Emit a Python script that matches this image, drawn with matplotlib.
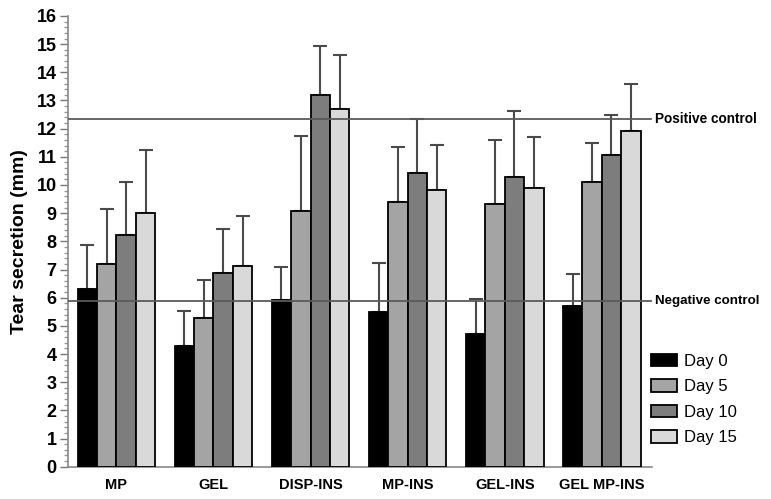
import matplotlib
matplotlib.use('Agg')
import matplotlib.pyplot as plt
import numpy as np
from matplotlib.ticker import MultipleLocator

# groups and series
groups = ['MP', 'GEL', 'DISP-INS', 'MP-INS', 'GEL-INS', 'GEL MP-INS']
days = ['Day 0', 'Day 5', 'Day 10', 'Day 15']

day0 = [6.3, 4.3, 5.93, 5.5, 4.7, 5.7]
day5 = [7.18, 5.28, 9.09, 9.4, 9.31, 10.11]
day10 = [8.21, 6.89, 13.19, 10.41, 10.28, 11.08]
day15 = [9.01, 7.11, 12.7, 9.81, 9.9, 11.9]

# top of the error bar (mean + sd)
day0_top = [7.88, 5.54, 7.1, 7.22, 5.96, 6.85]
day5_top = [9.14, 6.64, 11.75, 11.34, 11.61, 11.48]
day10_top = [10.09, 8.44, 14.95, 12.36, 12.62, 12.48]
day15_top = [11.26, 8.89, 14.6, 11.42, 11.7, 13.57]

positive_control = 12.36
negative_control = 5.87

plt.rcParams['font.family'] = ['Liberation Sans', 'DejaVu Sans']

fig = plt.figure(figsize=(7.71, 4.99), dpi=100)
ax = fig.add_axes([0.088, 0.0647, 0.758, 0.9033])

series = [day0, day5, day10, day15]
tops = [day0_top, day5_top, day10_top, day15_top]
colors = ['#000000', '#a4a4a4', '#7d7d7d', '#d9d9d9']
x = np.arange(len(groups))
w = 0.2

for i in range(4):
    pos = x + (i - 1.5) * w
    vals = np.array(series[i])
    err = np.array(tops[i]) - vals
    ax.bar(pos, vals, w, color=colors[i], edgecolor='black', linewidth=1.3,
           label=days[i], zorder=3)
    ax.errorbar(pos, vals, yerr=[np.zeros_like(err), err], fmt='none',
                ecolor='#4a4a4a', elinewidth=1.5, capsize=5, capthick=1.5,
                zorder=2)

# control lines, drawn over the bars
ax.axhline(positive_control, color='#5a5a5a', lw=1.3, zorder=4, xmax=0.997)
ax.axhline(negative_control, color='#5a5a5a', lw=1.3, zorder=4, xmax=0.997)
ax.text(1.004, positive_control, 'Positive control', transform=ax.get_yaxis_transform(),
        va='center', ha='left', fontsize=9.8, fontweight='bold')
ax.text(1.004, negative_control, 'Negative control', transform=ax.get_yaxis_transform(),
        va='center', ha='left', fontsize=9.6, fontweight='bold')

ax.set_xlim(-0.5, 5.52)
ax.set_ylim(0, 16)
ax.yaxis.set_major_locator(MultipleLocator(1))
ax.yaxis.set_minor_locator(MultipleLocator(0.2))
ax.set_xticks(x)
ax.set_xticklabels(groups, fontsize=10.5, fontweight='bold')
ax.tick_params(axis='x', length=0, pad=8)
ax.tick_params(axis='y', which='major', length=6, width=1, color='#777777',
               labelsize=13, pad=2)
ax.tick_params(axis='y', which='minor', length=3, width=1, color='#999999')
for lab in ax.get_yticklabels():
    lab.set_fontweight('bold')
ax.set_ylabel('Tear secretion (mm)', fontsize=14, fontweight='bold', labelpad=6)

for s in ['top', 'right']:
    ax.spines[s].set_visible(False)
for s in ['left', 'bottom']:
    ax.spines[s].set_color('#888888')
    ax.spines[s].set_linewidth(1.2)

ax.legend(loc='upper left', bbox_to_anchor=(0.997, 0.251), frameon=False,
          fontsize=12, handlelength=1.6, handleheight=0.8, labelspacing=0.62,
          handletextpad=0.4, borderaxespad=0, borderpad=0)

fig.savefig('out.png', dpi=100)
